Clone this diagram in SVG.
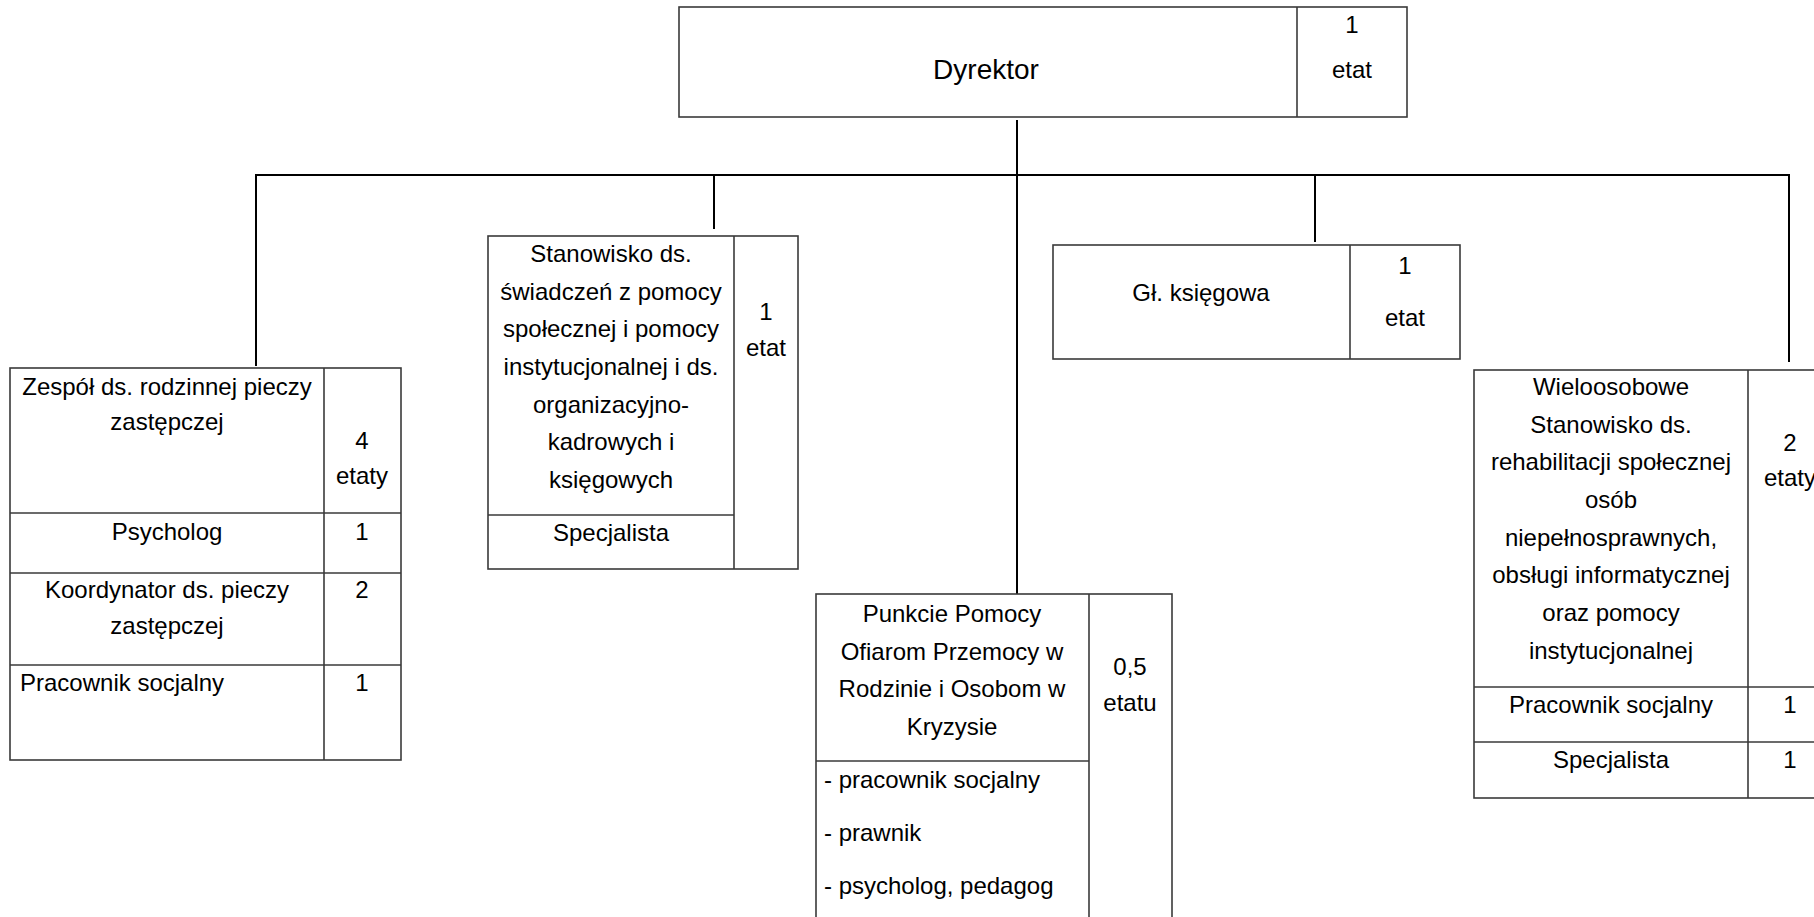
<svg xmlns="http://www.w3.org/2000/svg" width="1814" height="917" viewBox="0 0 1814 917">
<style>
text{font-family:"Liberation Sans",Arial,sans-serif;font-size:24px;fill:#000}
.c{text-anchor:middle}
.big{font-size:28px}
.box{fill:#fff;stroke:#3a3a3a;stroke-width:1.6}
.ln{stroke:#3a3a3a;stroke-width:1.6;fill:none}
.con{stroke:#000;stroke-width:2;fill:none}
</style>
<rect width="1814" height="917" fill="#fff"/>
<g id="connectors">
<line class="con" x1="1017" y1="120" x2="1017" y2="602"/>
<line class="con" x1="255" y1="175" x2="1790" y2="175"/>
<line class="con" x1="256" y1="175" x2="256" y2="366"/>
<line class="con" x1="714" y1="175" x2="714" y2="229"/>
<line class="con" x1="1315" y1="175" x2="1315" y2="242"/>
<line class="con" x1="1789" y1="175" x2="1789" y2="362"/>
</g>
<g id="dyrektor">
<rect class="box" x="679" y="7" width="728" height="110"/>
<line class="ln" x1="1297" y1="7" x2="1297" y2="117"/>
<text class="c big" x="986" y="79">Dyrektor</text>
<text class="c" x="1352" y="33">1</text>
<text class="c" x="1352" y="78">etat</text>
</g>
<g id="zespol">
<rect class="box" x="10" y="368" width="391" height="392"/>
<line class="ln" x1="324" y1="368" x2="324" y2="760"/>
<line class="ln" x1="10" y1="513" x2="401" y2="513"/>
<line class="ln" x1="10" y1="573" x2="401" y2="573"/>
<line class="ln" x1="10" y1="665" x2="401" y2="665"/>
<text class="c" x="167" y="395">Zespół ds. rodzinnej pieczy</text>
<text class="c" x="167" y="430">zastępczej</text>
<text class="c" x="362" y="449">4</text>
<text class="c" x="362" y="484">etaty</text>
<text class="c" x="167" y="540">Psycholog</text>
<text class="c" x="362" y="540">1</text>
<text class="c" x="167" y="598">Koordynator ds. pieczy</text>
<text class="c" x="167" y="634">zastępczej</text>
<text class="c" x="362" y="598">2</text>
<text x="20" y="691">Pracownik socjalny</text>
<text class="c" x="362" y="691">1</text>
</g>
<g id="stanowisko">
<rect class="box" x="488" y="236" width="310" height="333"/>
<line class="ln" x1="734" y1="236" x2="734" y2="569"/>
<line class="ln" x1="488" y1="515" x2="734" y2="515"/>
<text class="c" x="611" y="262">Stanowisko ds.</text>
<text class="c" x="611" y="300">świadczeń z pomocy</text>
<text class="c" x="611" y="337">społecznej i pomocy</text>
<text class="c" x="611" y="375">instytucjonalnej i ds.</text>
<text class="c" x="611" y="413">organizacyjno-</text>
<text class="c" x="611" y="450">kadrowych i</text>
<text class="c" x="611" y="488">księgowych</text>
<text class="c" x="611" y="541">Specjalista</text>
<text class="c" x="766" y="320">1</text>
<text class="c" x="766" y="356">etat</text>
</g>
<g id="gl-ksiegowa">
<rect class="box" x="1053" y="245" width="407" height="114"/>
<line class="ln" x1="1350" y1="245" x2="1350" y2="359"/>
<text class="c" x="1201" y="301">Gł. księgowa</text>
<text class="c" x="1405" y="274">1</text>
<text class="c" x="1405" y="326">etat</text>
</g>
<g id="punkcie">
<rect class="box" x="816" y="594" width="356" height="340"/>
<line class="ln" x1="1089" y1="594" x2="1089" y2="934"/>
<line class="ln" x1="816" y1="761" x2="1089" y2="761"/>
<text class="c" x="952" y="622">Punkcie Pomocy</text>
<text class="c" x="952" y="660">Ofiarom Przemocy w</text>
<text class="c" x="952" y="697">Rodzinie i Osobom w</text>
<text class="c" x="952" y="735">Kryzysie</text>
<text class="c" x="1130" y="675">0,5</text>
<text class="c" x="1130" y="711">etatu</text>
<text x="824" y="788">- pracownik socjalny</text>
<text x="824" y="841">- prawnik</text>
<text x="824" y="894">- psycholog, pedagog</text>
</g>
<g id="wieloosobowe">
<rect class="box" x="1474" y="370" width="360" height="428"/>
<line class="ln" x1="1748" y1="370" x2="1748" y2="798"/>
<line class="ln" x1="1474" y1="687" x2="1834" y2="687"/>
<line class="ln" x1="1474" y1="742" x2="1834" y2="742"/>
<text class="c" x="1611" y="395">Wieloosobowe</text>
<text class="c" x="1611" y="433">Stanowisko ds.</text>
<text class="c" x="1611" y="470">rehabilitacji społecznej</text>
<text class="c" x="1611" y="508">osób</text>
<text class="c" x="1611" y="546">niepełnosprawnych,</text>
<text class="c" x="1611" y="583">obsługi informatycznej</text>
<text class="c" x="1611" y="621">oraz pomocy</text>
<text class="c" x="1611" y="659">instytucjonalnej</text>
<text class="c" x="1790" y="451">2</text>
<text class="c" x="1790" y="486">etaty</text>
<text class="c" x="1611" y="713">Pracownik socjalny</text>
<text class="c" x="1790" y="713">1</text>
<text class="c" x="1611" y="768">Specjalista</text>
<text class="c" x="1790" y="768">1</text>
</g>
</svg>
